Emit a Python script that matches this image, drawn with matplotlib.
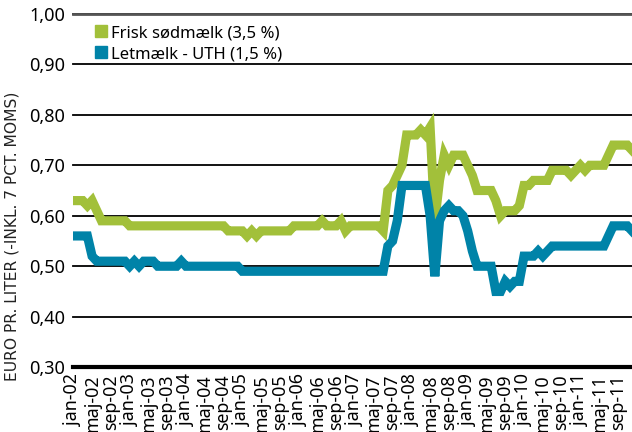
import matplotlib

matplotlib.use("Agg")
import matplotlib.pyplot as plt
from matplotlib.font_manager import FontProperties

# monthly prices, jan-02 .. dec-11 (120 months), euro per liter
FRISK = (
    [0.63, 0.63, 0.63, 0.62, 0.63, 0.61]
    + [0.59] * 6
    + [0.58] * 21
    + [0.57] * 4
    + [0.56, 0.57, 0.56]
    + [0.57] * 7
    + [0.58] * 6
    + [0.59, 0.58, 0.58, 0.58, 0.59, 0.57]
    + [0.58] * 7
    + [0.57, 0.65, 0.66, 0.68, 0.70, 0.76, 0.76, 0.76, 0.77, 0.76, 0.775]
    + [0.59, 0.67, 0.72, 0.70, 0.72, 0.72, 0.72, 0.70, 0.68, 0.65, 0.65, 0.65, 0.65]
    + [0.63, 0.60, 0.61, 0.61, 0.61, 0.62, 0.66, 0.66, 0.67, 0.67, 0.67, 0.67]
    + [0.69, 0.69, 0.69, 0.69, 0.68, 0.69, 0.70, 0.69, 0.70, 0.70, 0.70, 0.70]
    + [0.72, 0.74, 0.74, 0.74, 0.74, 0.73]
)
LETMAELK = (
    [0.56, 0.56, 0.56, 0.56, 0.52]
    + [0.51] * 7
    + [0.50, 0.51, 0.50, 0.51, 0.51, 0.51]
    + [0.50] * 5
    + [0.51]
    + [0.50] * 12
    + [0.49] * 31
    + [0.54, 0.55, 0.59, 0.66, 0.66, 0.66, 0.66, 0.66, 0.66, 0.60]
    + [0.48, 0.59, 0.61, 0.62, 0.61, 0.61, 0.60, 0.57, 0.53]
    + [0.50, 0.50, 0.50, 0.50]
    + [0.45, 0.45, 0.47, 0.46, 0.47, 0.47]
    + [0.52, 0.52, 0.52, 0.53, 0.52, 0.53]
    + [0.54] * 12
    + [0.56, 0.58, 0.58, 0.58, 0.58, 0.57]
)
MONTHS = ["jan", "maj", "sep"]
YEARS = [f"{y:02d}" for y in range(2, 12)]
TICK_LABELS = [f"{m}-{y}" for y in YEARS for m in MONTHS]
LEGEND = ["Frisk sødmælk (3,5 %)", "Letmælk - UTH (1,5 %)"]
YTICKS = [0.30, 0.40, 0.50, 0.60, 0.70, 0.80, 0.90, 1.00]

GREEN = "#a2c03a"
BLUE = "#0083a8"


def narrow(size):
    return FontProperties(family="Noto Sans", stretch="condensed", size=size)


fig = plt.figure(figsize=(6.32, 4.32), dpi=100)
ax = fig.add_axes([0.116, 0.150, 0.884, 0.818])

xs = list(range(len(FRISK)))
ax.plot(xs, FRISK, color=GREEN, linewidth=6.6, solid_joinstyle="miter", zorder=3)
ax.plot(xs, LETMAELK, color=BLUE, linewidth=6.6, solid_joinstyle="miter", zorder=4)

ax.set_xlim(0, len(FRISK) - 1)
ax.set_ylim(0.30, 1.00)
ax.set_yticks(YTICKS)
ax.set_yticklabels([f"{v:.2f}".replace(".", ",") for v in YTICKS], fontproperties=narrow(13))
for v in YTICKS:
    ax.axhline(v, color="black", linewidth=1.3 if v > 0.3 else 3.0, zorder=1,
               clip_on=False)
ax.axhline(1.00, color="#555555", linewidth=2.0, zorder=2, clip_on=False)

tick_pos = list(range(0, len(TICK_LABELS) * 4, 4))
ax.set_xticks(tick_pos)
ax.set_xticklabels(TICK_LABELS, rotation=90, va="top", fontproperties=narrow(12.8))
ax.tick_params(axis="both", length=0)
ax.tick_params(axis="y", pad=6)
ax.tick_params(axis="x", pad=5)

for side in ["top", "right", "left", "bottom"]:
    ax.spines[side].set_visible(False)

ax.set_ylabel("EURO PR. LITER (-INKL. 7 PCT. MOMS)", fontsize=11.2, family="DejaVu Sans",
              color="#222222")
ax.yaxis.set_label_coords(-0.097, 0.37)

handles = [
    plt.Line2D([], [], marker="s", linestyle="none", markersize=9, color=GREEN),
    plt.Line2D([], [], marker="s", linestyle="none", markersize=9, color=BLUE),
]
ax.legend(handles, LEGEND, loc="upper left", bbox_to_anchor=(0.008, 1.01), frameon=False,
          prop=narrow(12), handletextpad=0.1, labelspacing=0.3, handlelength=1.0)

fig.savefig("out.png", dpi=100)
